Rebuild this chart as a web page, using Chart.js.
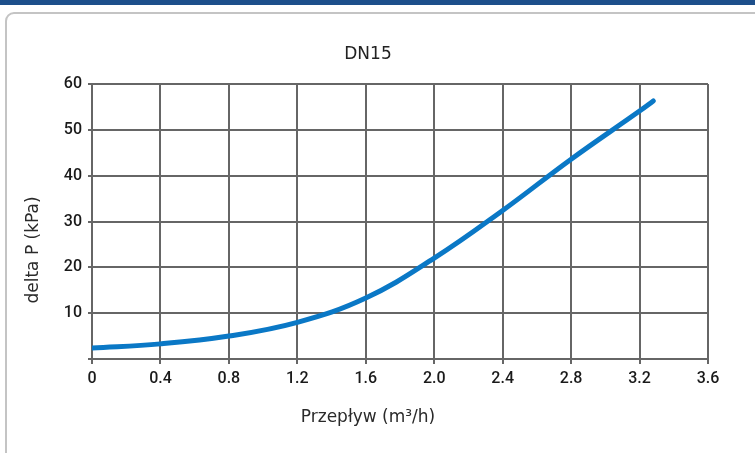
<!DOCTYPE html>
<html><head><meta charset="utf-8">
<script src="https://cdn.jsdelivr.net/npm/chart.js@4"></script>
<style>
html,body{margin:0;padding:0;width:755px;height:453px;overflow:hidden;background:#fff;}
#bar{position:absolute;left:0;top:0;width:755px;height:5px;background:#1d4f8b;}
#card{position:absolute;left:5px;top:12px;width:770px;height:460px;border:2px solid #c4c4c4;border-radius:9px;background:#fff;box-sizing:border-box;}
#wrap{position:absolute;left:0;top:0;width:755px;height:453px;}
</style></head>
<body>
<div id="bar"></div><div id="card"></div>
<div id="wrap"><canvas id="c"></canvas></div>
<script>
const chartTitle = 'DN15';
const xTitle = 'Przepływ (m³/h)';
const yTitle = 'delta P (kPa)';
const flow = [0, 0.4, 0.8, 1.2, 1.6, 2.0, 2.4, 2.8, 3.2, 3.28];
const deltaP = [2.4, 3.3, 5.0, 8.0, 13.3, 22.0, 32.4, 43.6, 54.1, 56.3];
const xTicks = [0, 0.4, 0.8, 1.2, 1.6, 2.0, 2.4, 2.8, 3.2, 3.6];
const yTicks = [0, 10, 20, 30, 40, 50, 60];

const textPlugin = {
  id: 'texts',
  afterDraw(chart) {
    const ctx = chart.ctx;
    ctx.save();
    ctx.fillStyle = '#222';
    ctx.textAlign = 'center';
    ctx.textBaseline = 'middle';
    ctx.font = '17px "DejaVu Sans"';
    ctx.fillText(chartTitle, 368, 55);
    ctx.font = '17px "DejaVu Sans"';
    ctx.fillStyle = '#2a2a2a';
    ctx.fillText(xTitle, 368, 418);
    ctx.translate(34, 250);
    ctx.rotate(-Math.PI / 2);
    ctx.fillText(yTitle, 0, 0);
    ctx.restore();
  }
};

new Chart(document.getElementById('c'), {
  type: 'line',
  data: {
    datasets: [{
      data: flow.map((x, i) => ({x: x, y: deltaP[i]})),
      borderColor: '#0a78c6',
      borderWidth: 5,
      borderCapStyle: 'round',
      pointRadius: 0,
      tension: 0.4,
      fill: false
    }]
  },
  options: {
    responsive: true,
    maintainAspectRatio: false,
    animation: false,
    layout: {padding: {left: 0, top: 84, right: 47, bottom: 0}},
    plugins: {legend: {display: false}, tooltip: {enabled: false}, title: {display: false}},
    scales: {
      x: {
        type: 'linear', min: 0, max: 3.6,
        afterBuildTicks: s => { s.ticks = xTicks.map(v => ({value: v})); },
        afterFit: s => { s.height = 94; },
        grid: {color: '#666', lineWidth: 2, tickLength: 5, drawTicks: true},
        border: {color: '#666', width: 2},
        ticks: {color: '#1a1a1a', font: {family: 'Roboto', size: 16, weight: '500'}, padding: 5, maxRotation: 0,
          callback: v => (v === 0 ? '0' : v.toFixed(1))}
      },
      y: {
        type: 'linear', min: 0, max: 60,
        afterBuildTicks: s => { s.ticks = yTicks.map(v => ({value: v})); },
        afterFit: s => { s.width = 92; },
        grid: {color: '#666', lineWidth: 2, tickLength: 4, drawTicks: true},
        border: {color: '#666', width: 2},
        ticks: {color: '#1a1a1a', font: {family: 'Roboto', size: 16, weight: '500'}, padding: 6,
          callback: v => (v === 0 ? '' : String(v))}
      }
    }
  },
  plugins: [textPlugin]
});
</script>
</body></html>
